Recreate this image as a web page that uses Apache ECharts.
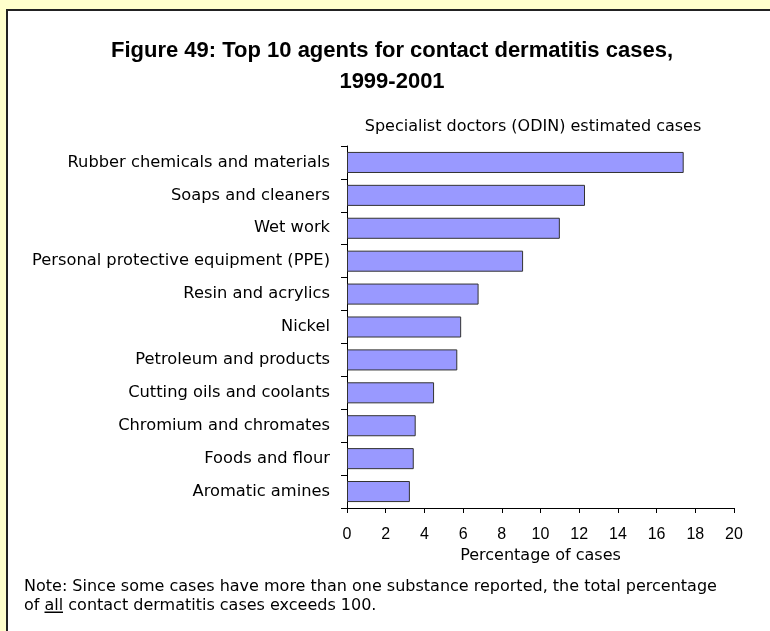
<!DOCTYPE html>
<html>
<head>
<meta charset="utf-8">
<script src="https://cdn.jsdelivr.net/npm/echarts@6/dist/echarts.min.js"></script>
<style>
html,body{margin:0;padding:0;background:#FFFFCC;}
#chart{width:770px;height:631px;}
</style>
</head>
<body>
<div id="chart"></div>
<script>
const categories = [
  "Rubber chemicals and materials",
  "Soaps and cleaners",
  "Wet work",
  "Personal protective equipment (PPE)",
  "Resin and acrylics",
  "Nickel",
  "Petroleum and products",
  "Cutting oils and coolants",
  "Chromium and chromates",
  "Foods and flour",
  "Aromatic amines"
];
const percentages = [17.4, 12.3, 11.0, 9.1, 6.8, 5.9, 5.7, 4.5, 3.55, 3.45, 3.25];
const xTicks = { min: 0, max: 20, interval: 2 };
const titleText = "Figure 49: Top 10 agents for contact dermatitis cases,\n1999-2001";
const subtitleText = "Specialist doctors (ODIN) estimated cases";
const xAxisName = "Percentage of cases";
const noteLine1 = "Note: Since some cases have more than one substance reported, the total percentage";
const noteLine2 = "of all contact dermatitis cases exceeds 100.";

const FONT = "'DejaVu Sans', 'Liberation Sans', Arial, sans-serif";
const FONT_B = "'Liberation Sans', Arial, sans-serif";
const chart = echarts.init(document.getElementById('chart'), null, {renderer: 'canvas'});
chart.setOption({
  backgroundColor: '#FFFFCC',
  animation: false,
  graphic: [
    { type: 'rect', z: -10, shape: { x: 7, y: 10, width: 800, height: 700 },
      style: { fill: '#ffffff', stroke: '#222222', lineWidth: 2 } },
    { type: 'text', left: 24, top: 579, z: 10,
      style: { text: noteLine1, font: '16px ' + FONT, fill: '#000' } },
    { type: 'text', left: 24, top: 598, z: 10,
      style: { text: noteLine2, font: '16px ' + FONT, fill: '#000' } },
    { type: 'rect', z: 10, shape: { x: 44.5, y: 611.5, width: 18.5, height: 1.5 },
      style: { fill: '#000' } }
  ],
  title: [
    { text: titleText, left: 392, top: 35, textAlign: 'center', padding: 0,
      textStyle: { fontFamily: FONT_B, fontSize: 22, fontWeight: 'bold', color: '#000', lineHeight: 31 } },
    { text: subtitleText, left: 533, top: 119, textAlign: 'center', padding: 0,
      textStyle: { fontFamily: FONT, fontSize: 16, fontWeight: 'normal', color: '#000' } }
  ],
  grid: { left: 347, right: 36, top: 146, bottom: 123, containLabel: false },
  xAxis: {
    type: 'value', min: xTicks.min, max: xTicks.max, interval: xTicks.interval,
    name: xAxisName, nameLocation: 'middle', nameGap: 38,
    nameTextStyle: { fontFamily: FONT, fontSize: 16, color: '#000' },
    axisLine: { show: true, lineStyle: { color: '#000', width: 1 } },
    axisTick: { show: true, length: 5, lineStyle: { color: '#000' } },
    splitLine: { show: false },
    axisLabel: { fontFamily: FONT_B, fontSize: 16, color: '#000', margin: 19 }
  },
  yAxis: {
    type: 'category', data: categories, inverse: true,
    axisLine: { show: true, lineStyle: { color: '#000', width: 1 } },
    axisTick: { show: true, length: 6, interval: 0, lineStyle: { color: '#000' } },
    axisLabel: { fontFamily: FONT, fontSize: 16.3, color: '#000', margin: 17, interval: 0 }
  },
  series: [{
    type: 'bar', data: percentages, barCategoryGap: '36%',
    itemStyle: { color: '#9999FF', borderColor: '#333333', borderWidth: 1 }
  }]
});
</script>
</body>
</html>
